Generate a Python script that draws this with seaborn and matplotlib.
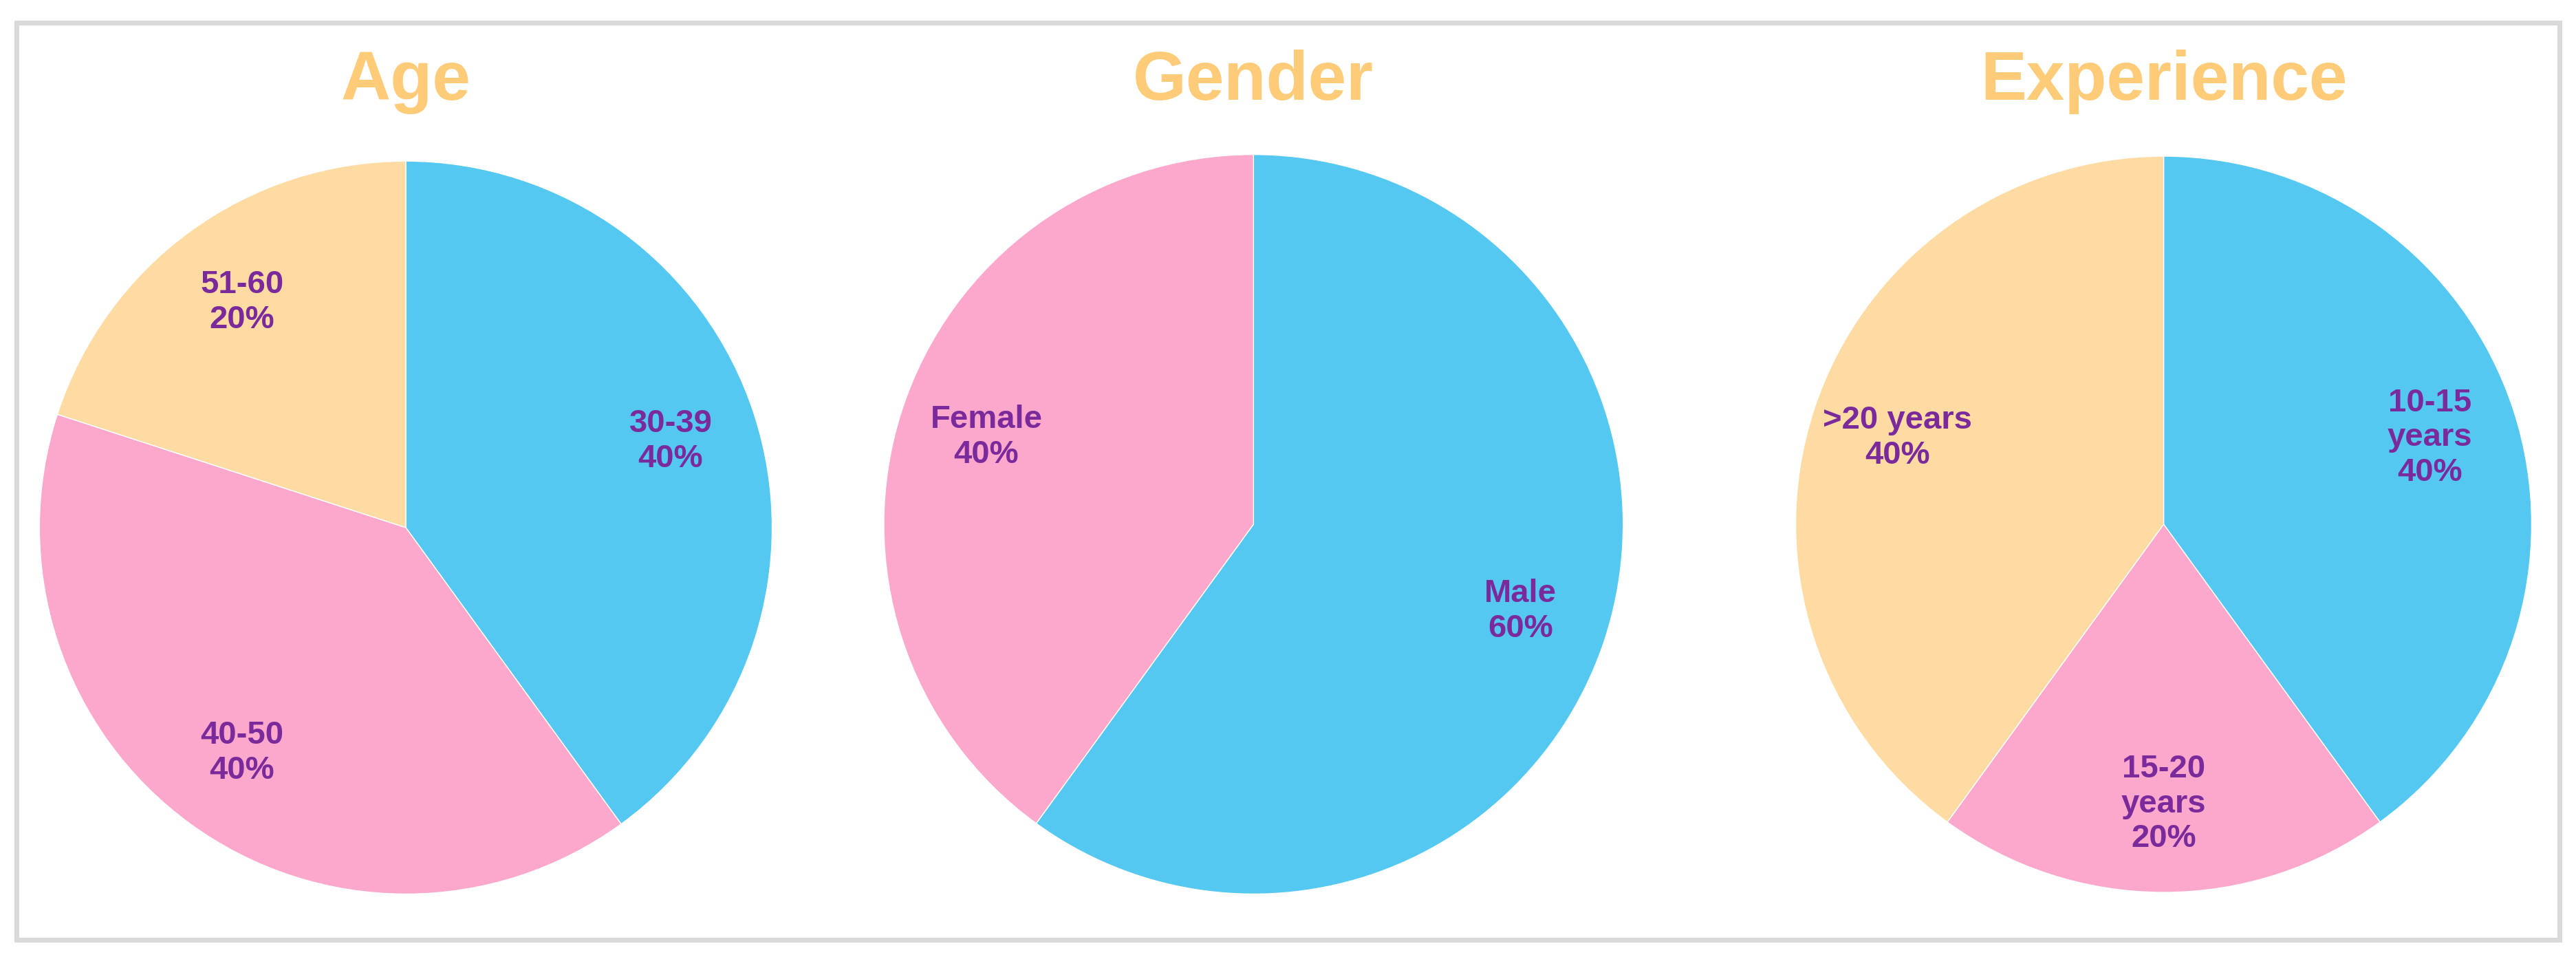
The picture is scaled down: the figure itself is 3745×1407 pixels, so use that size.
import matplotlib
matplotlib.use("Agg")
import matplotlib.pyplot as plt
import seaborn as sns
from matplotlib.patches import Rectangle

sns.set_style("white")
plt.rcParams['font.family'] = ['Liberation Sans', 'DejaVu Sans']

blue, pink, yellow = "#55C8F2", "#FCA8CC", "#FEDBA3"
label_color = "#7B2A9C"
title_color = "#FECB78"

titles = ["Age", "Gender", "Experience"]
age_labels = ["30-39", "40-50", "51-60"]
age_values = [40, 40, 20]
gender_labels = ["Male", "Female"]
gender_values = [60, 40]
exp_labels = ["10-15\nyears", "15-20\nyears", ">20 years"]
exp_values = [40, 20, 40]

charts = [
    (age_labels, age_values, [blue, pink, yellow]),
    (gender_labels, gender_values, [blue, pink]),
    (exp_labels, exp_values, [blue, pink, yellow]),
]

fig = plt.figure(figsize=(37.45, 14.07), dpi=100)
W, H = 1568, 589
centers = [(247, 321, 223), (763, 319, 225), (1317, 319, 224)]

fig.patches.append(Rectangle((10 / W, 1 - 572 / H), 1548 / W, 558 / H,
                             transform=fig.transFigure, fill=False,
                             edgecolor="#D9D9D9", linewidth=5))

for (labels, values, colors), (cx, cy, r), title in zip(charts, centers, titles):
    ax = fig.add_axes([(cx - r) / W, 1 - (cy + r) / H, 2 * r / W, 2 * r / H])
    texts = [f"{l}\n{v}%" for l, v in zip(labels, values)]
    wedges, lbls = ax.pie(values, labels=texts, colors=colors, startangle=90,
                          counterclock=False, labeldistance=0.76, radius=1,
                          textprops=dict(color=label_color, fontsize=34,
                                         fontweight="bold"))
    for t in lbls:
        t.set_ha("center")
        t.set_va("center")
        t.set_multialignment("center")
    ax.set_xlim(-1, 1)
    ax.set_ylim(-1, 1)
    ax.set_aspect("equal")
    fig.text(cx / W, 1 - 50 / H, title, ha="center", va="center",
             fontsize=72, fontweight="bold", color=title_color)

fig.savefig("out.png", dpi=100)
